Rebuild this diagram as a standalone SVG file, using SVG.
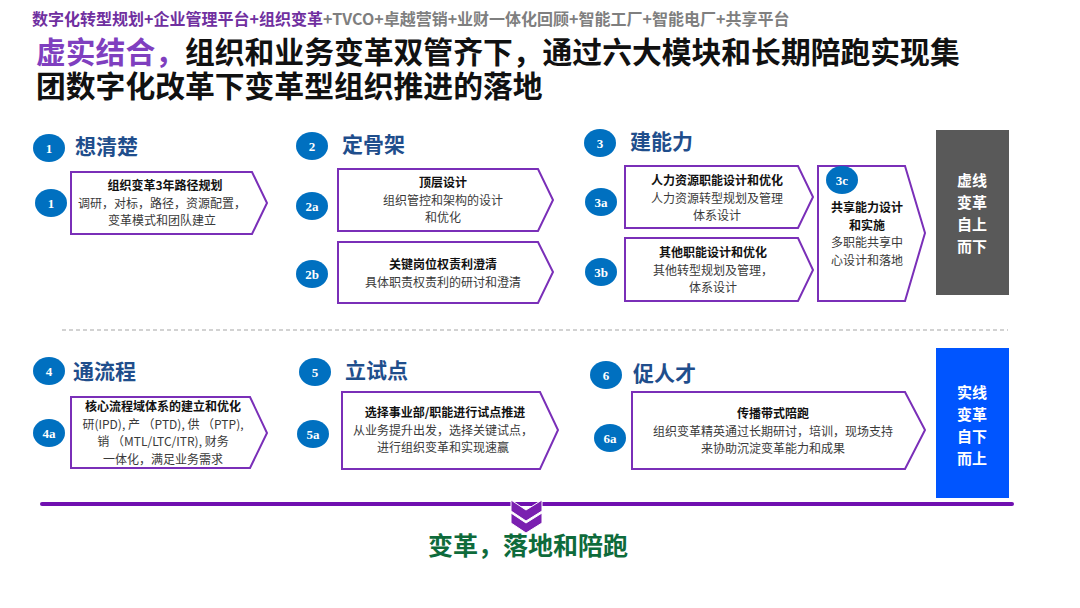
<svg xmlns="http://www.w3.org/2000/svg" width="1080" height="608" viewBox="0 0 1080 608">
<style>
text{font-family:"Noto Sans CJK SC","Noto Sans",sans-serif;}
.sub{font-size:16px;font-weight:bold;}
.ttl{font-size:29.8px;font-weight:bold;fill:#111;}
.hd{font-size:21px;font-weight:bold;fill:#1F4E8C;}
.num{fill:#0070C0;}
.nt{font-family:"Liberation Serif",serif;font-size:13px;font-weight:bold;fill:#fff;text-anchor:middle;}
.box{fill:#fff;stroke:#7A2FB8;stroke-width:2;}
.bt{font-size:12px;font-weight:bold;fill:#111;text-anchor:middle;}
.bd{font-size:12px;fill:#3a3a3a;text-anchor:middle;}
.side{font-size:15px;font-weight:bold;fill:#fff;text-anchor:middle;}
</style>
<rect width="1080" height="608" fill="#fff"/>

<g id="header">
<text x="32" y="25" class="sub"><tspan fill="#7030A0">数字化转型规划+企业管理平台+组织变革</tspan><tspan fill="#7f7f7f">+TVCO+卓越营销+业财一体化回顾+智能工厂+智能电厂+共享平台</tspan></text>
<text x="36" y="63" class="ttl"><tspan fill="#7F3FBF">虚实结合，</tspan>组织和业务变革双管齐下，通过六大模块和长期陪跑实现集</text>
<text x="36" y="97" class="ttl">团数字化改革下变革型组织推进的落地</text>
</g>

<g id="sec1">
<ellipse class="num" cx="49" cy="148" rx="16" ry="14"/><text class="nt" x="49" y="153">1</text>
<text class="hd" x="75" y="154">想清楚</text>
</g>
<g id="node1">
<polygon class="box" points="71,172 252,172 267,203 252,234 71,234"/>
<ellipse class="num" cx="51" cy="203" rx="16" ry="14"/><text class="nt" x="51" y="208">1</text>
<text class="bt" x="165" y="190">组织变革3年路径规划</text>
<text class="bd" x="162" y="207.5">调研，对标，路径，资源配置，</text>
<text class="bd" x="162" y="225">变革模式和团队建立</text>
</g>

<g id="sec2">
<ellipse class="num" cx="312" cy="146" rx="16" ry="14"/><text class="nt" x="312" y="151">2</text>
<text class="hd" x="342" y="152">定骨架</text>
</g>
<g id="node2a">
<polygon class="box" points="338,169 538,169 553,200 538,231 338,231"/>
<ellipse class="num" cx="312" cy="206" rx="16" ry="14"/><text class="nt" x="312" y="211">2a</text>
<text class="bt" x="443" y="187">顶层设计</text>
<text class="bd" x="443" y="204.5">组织管控和架构的设计</text>
<text class="bd" x="443" y="222">和优化</text>
</g>
<g id="node2b">
<polygon class="box" points="338,242 538,242 553,272 538,303 338,303"/>
<ellipse class="num" cx="312" cy="274" rx="16" ry="14"/><text class="nt" x="312" y="279">2b</text>
<text class="bt" x="443" y="269">关键岗位权责利澄清</text>
<text class="bd" x="443" y="287">具体职责权责利的研讨和澄清</text>
</g>

<g id="sec3">
<ellipse class="num" cx="600" cy="143" rx="16" ry="14"/><text class="nt" x="600" y="148">3</text>
<text class="hd" x="630" y="149">建能力</text>
</g>
<g id="node3a">
<polygon class="box" points="625,166 798,166 813,197 798,228 625,228"/>
<ellipse class="num" cx="601" cy="202" rx="16" ry="14"/><text class="nt" x="601" y="207">3a</text>
<text class="bt" x="717" y="185">人力资源职能设计和优化</text>
<text class="bd" x="717" y="202.5">人力资源转型规划及管理</text>
<text class="bd" x="717" y="220">体系设计</text>
</g>
<g id="node3b">
<polygon class="box" points="625,238 798,238 813,270 798,301 625,301"/>
<ellipse class="num" cx="601" cy="272" rx="16" ry="14"/><text class="nt" x="601" y="277">3b</text>
<text class="bt" x="713" y="257">其他职能设计和优化</text>
<text class="bd" x="713" y="274.5">其他转型规划及管理，</text>
<text class="bd" x="713" y="292">体系设计</text>
</g>
<g id="node3c">
<polygon class="box" points="818,166 905,166 925,233 905,301 818,301"/>
<ellipse class="num" cx="842" cy="180" rx="16" ry="14"/><text class="nt" x="842" y="185">3c</text>
<text class="bt" x="867" y="212">共享能力设计</text>
<text class="bt" x="867" y="229.5">和实施</text>
<text class="bd" x="867" y="247">多职能共享中</text>
<text class="bd" x="867" y="264.5">心设计和落地</text>
</g>

<g id="top-down">
<rect x="936" y="130" width="73" height="165" fill="#595959"/>
<text class="side" x="972" y="186">虚线</text>
<text class="side" x="972" y="208">变革</text>
<text class="side" x="972" y="230">自上</text>
<text class="side" x="972" y="252">而下</text>
</g>

<line x1="62" y1="330" x2="1008" y2="330" stroke="#a6a6a6" stroke-width="1.2" stroke-dasharray="4,3"/>

<g id="sec4">
<ellipse class="num" cx="49" cy="371" rx="16" ry="14"/><text class="nt" x="49" y="376">4</text>
<text class="hd" x="73" y="379">通流程</text>
</g>
<g id="node4a">
<polygon class="box" points="71,397 250,397 267,433 250,468 71,468"/>
<ellipse class="num" cx="49" cy="433" rx="16" ry="14"/><text class="nt" x="49" y="438">4a</text>
<text class="bt" x="163" y="411">核心流程域体系的建立和优化</text>
<text class="bd" x="163" y="428.5">研(IPD), 产 （PTD), 供 （PTP),</text>
<text class="bd" x="163" y="446">销 （MTL/LTC/ITR), 财务</text>
<text class="bd" x="163" y="463.5">一体化，满足业务需求</text>
</g>

<g id="sec5">
<ellipse class="num" cx="315" cy="372" rx="16" ry="14"/><text class="nt" x="315" y="377">5</text>
<text class="hd" x="345" y="378">立试点</text>
</g>
<g id="node5a">
<polygon class="box" points="342,392 540,392 558,430 540,469 342,469"/>
<ellipse class="num" cx="313" cy="434" rx="16" ry="14"/><text class="nt" x="313" y="439">5a</text>
<text class="bt" x="445" y="417">选择事业部/职能进行试点推进</text>
<text class="bd" x="443" y="434.5">从业务提升出发，选择关键试点，</text>
<text class="bd" x="443" y="452">进行组织变革和实现速赢</text>
</g>

<g id="sec6">
<ellipse class="num" cx="606" cy="375" rx="16" ry="14"/><text class="nt" x="606" y="380">6</text>
<text class="hd" x="633" y="381">促人才</text>
</g>
<g id="node6a">
<polygon class="box" points="632,392 905,392 925,430 905,469 632,469"/>
<ellipse class="num" cx="610" cy="438" rx="16" ry="14"/><text class="nt" x="610" y="443">6a</text>
<text class="bt" x="773" y="418">传播带式陪跑</text>
<text class="bd" x="773" y="435.5">组织变革精英通过长期研讨，培训，现场支持</text>
<text class="bd" x="773" y="453">来协助沉淀变革能力和成果</text>
</g>

<g id="bottom-up">
<rect x="936" y="348" width="73" height="150" fill="#0055FF"/>
<text class="side" x="972" y="398">实线</text>
<text class="side" x="972" y="420">变革</text>
<text class="side" x="972" y="442">自下</text>
<text class="side" x="972" y="464">而上</text>
</g>

<g id="connectors">
<line x1="42" y1="504" x2="1012" y2="504" stroke="#7010B0" stroke-width="4" stroke-linecap="round"/>
<polygon points="511,500 526,510 542,500 542,511 526,521 511,511" fill="#7A1FB0" stroke="#fff" stroke-width="1"/>
<polygon points="511,513 526,523 542,513 542,523 526,533 511,523" fill="#7A1FB0" stroke="#fff" stroke-width="1"/>
</g>
<text x="528" y="555" font-size="25" font-weight="bold" fill="#0E6B3B" text-anchor="middle">变革，落地和陪跑</text>
</svg>
